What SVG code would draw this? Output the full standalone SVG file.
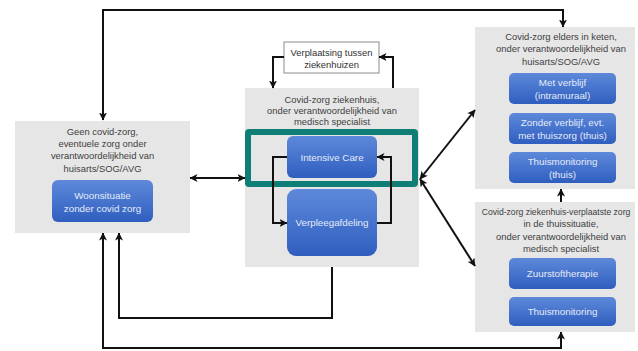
<svg xmlns="http://www.w3.org/2000/svg" width="638" height="351" viewBox="0 0 638 351">
<style>
.panel{fill:#e6e6e6}
.blue{fill:url(#bg)}
.t{font-family:"Liberation Sans",Arial,sans-serif;font-size:9.4px;fill:#404040;text-anchor:middle}
.w{font-family:"Liberation Sans",Arial,sans-serif;font-size:9.8px;fill:#e4ebf8;text-anchor:middle}
.c{fill:none;stroke:#111;stroke-width:2}
</style>
<defs>
<linearGradient id="bg" x1="0" y1="0" x2="0" y2="1">
<stop offset="0" stop-color="#5e89da"/>
<stop offset="1" stop-color="#2f5ebf"/>
</linearGradient>
<marker id="ah" markerUnits="userSpaceOnUse" viewBox="0 0 8 8" refX="7.5" refY="4" markerWidth="8" markerHeight="8" orient="auto-start-reverse">
<path d="M0,0 L8,4 L0,8 L2,4 z" fill="#111"/>
</marker>
</defs>
<g id="left">
<rect class="panel" x="15" y="121" width="175" height="112"/>
<text class="t" x="102.5" y="135">Geen covid-zorg,</text>
<text class="t" x="102.5" y="147">eventuele zorg onder</text>
<text class="t" x="102.5" y="159">verantwoordelijkheid van</text>
<text class="t" x="102.5" y="172">huisarts/SOG/AVG</text>
<rect class="blue" x="52" y="180" width="101" height="42" rx="6"/>
<text class="w" x="102.5" y="199">Woonsituatie</text>
<text class="w" x="102.5" y="212">zonder covid zorg</text>
</g>
<g id="verplaatsing">
<rect x="284" y="42" width="95" height="31" fill="#fff" stroke="#8c8c8c" stroke-width="1"/>
<text class="t" x="331.5" y="56" style="fill:#303030">Verplaatsing tussen</text>
<text class="t" x="331.5" y="68" style="fill:#303030">ziekenhuizen</text>
</g>
<g id="center">
<rect class="panel" x="245" y="88" width="174" height="179"/>
<text class="t" x="332" y="103">Covid-zorg ziekenhuis,</text>
<text class="t" x="332" y="114">onder verantwoordelijkheid van</text>
<text class="t" x="332" y="125">medisch specialist</text>
</g>
<g id="ic">
<rect class="blue" x="287" y="136" width="90" height="42" rx="6"/>
<text class="w" x="332" y="161">Intensive Care</text>
</g>
<g id="verpleeg">
<rect class="blue" x="287" y="189" width="90" height="67" rx="9"/>
<text class="w" x="332" y="226">Verpleegafdeling</text>
</g>
<g id="highlight">
<rect x="248" y="132" width="167" height="52" fill="none" stroke="#0f7e76" stroke-width="6" rx="1"/>
</g>
<g id="rightTop">
<rect class="panel" x="475" y="27" width="160" height="162"/>
<text class="t" x="561" y="40">Covid-zorg elders in keten,</text>
<text class="t" x="561" y="52">onder verantwoordelijkheid van</text>
<text class="t" x="561" y="65">huisarts/SOG/AVG</text>
<rect class="blue" x="509" y="73" width="107" height="31" rx="5"/>
<text class="w" x="562.5" y="86">Met verblijf</text>
<text class="w" x="562.5" y="99">(intramuraal)</text>
<rect class="blue" x="509" y="113" width="107" height="31" rx="5"/>
<text class="w" x="562.5" y="126">Zonder verblijf, evt.</text>
<text class="w" x="562.5" y="139">met thuiszorg (thuis)</text>
<rect class="blue" x="509" y="152" width="107" height="31" rx="5"/>
<text class="w" x="562.5" y="165">Thuismonitoring</text>
<text class="w" x="562.5" y="178">(thuis)</text>
</g>
<g id="rightBottom">
<rect class="panel" x="475" y="202" width="160" height="130"/>
<text class="t" x="556" y="215" style="font-size:8.6px">Covid-zorg ziekenhuis-verplaatste zorg</text>
<text class="t" x="561" y="227">in de thuissituatie,</text>
<text class="t" x="561" y="240">onder verantwoordelijkheid van</text>
<text class="t" x="561" y="252">medisch specialist</text>
<rect class="blue" x="509" y="258" width="107" height="31" rx="5"/>
<text class="w" x="562.5" y="277">Zuurstoftherapie</text>
<rect class="blue" x="509" y="297" width="107" height="29" rx="5"/>
<text class="w" x="562.5" y="315">Thuismonitoring</text>
</g>
<g id="connectors">
<path class="c" d="M103,120 V10 H563 V27" marker-start="url(#ah)" marker-end="url(#ah)"/>
<path class="c" d="M190,178 H245" marker-start="url(#ah)" marker-end="url(#ah)"/>
<path class="c" d="M420,179 L475,110" marker-start="url(#ah)" marker-end="url(#ah)"/>
<path class="c" d="M420,179 L475,266" marker-start="url(#ah)" marker-end="url(#ah)"/>
<path class="c" d="M393,88 V57 H379" marker-end="url(#ah)"/>
<path class="c" d="M284,57 H273 V88" marker-end="url(#ah)"/>
<path class="c" d="M287,157 H273 V223 H287" marker-end="url(#ah)"/>
<path class="c" d="M377,223 H391 V157 H377" marker-end="url(#ah)"/>
<path class="c" d="M332,267 V318 H119 V233" marker-end="url(#ah)"/>
<path class="c" d="M103,233 V348 H561 V332" marker-start="url(#ah)" marker-end="url(#ah)"/>
<path class="c" d="M561,202 V189" marker-end="url(#ah)"/>
</g>
</svg>
